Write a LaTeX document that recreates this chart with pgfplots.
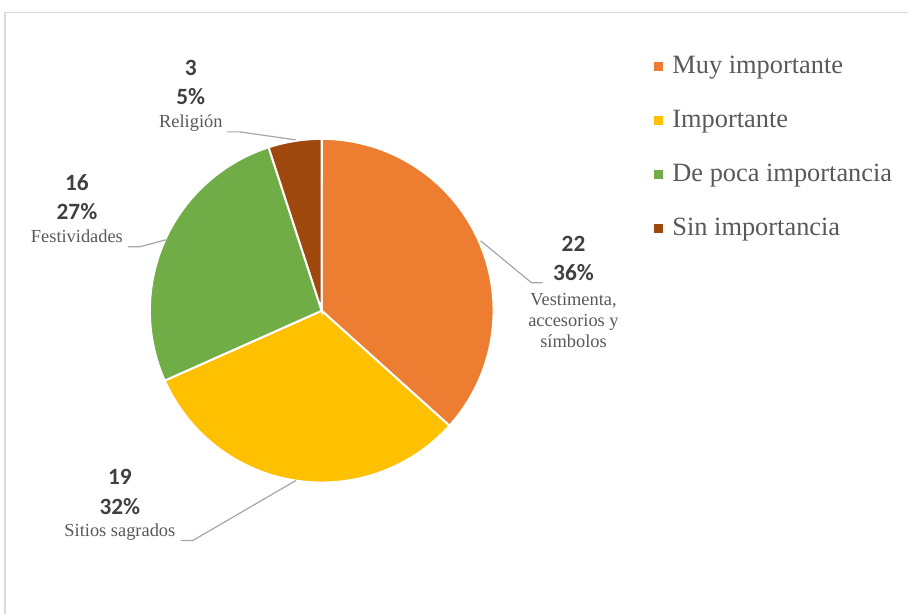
\documentclass[border=0pt]{standalone}
\usepackage{pgfplots}
\usepackage{pgfplotstable}
\pgfplotsset{compat=1.18}
\usepackage{fontspec}
\setmainfont{Liberation Serif}
\newfontfamily\calibri{Carlito}
\definecolor{cOrange}{HTML}{ED7D31}
\definecolor{cYellow}{HTML}{FFC000}
\definecolor{cGreen}{HTML}{70AD47}
\definecolor{cBrown}{HTML}{9E480E}
\definecolor{numtxt}{HTML}{404040}
\definecolor{labtxt}{HTML}{595959}
\definecolor{leader}{HTML}{A6A6A6}
\definecolor{frame}{HTML}{D9D9D9}

\pgfplotstableread{
value pct
22 36
19 32
16 27
3 5
}\piedata

\pgfplotstablegetelem{0}{value}\of\piedata \let\va\pgfplotsretval
\pgfplotstablegetelem{1}{value}\of\piedata \let\vb\pgfplotsretval
\pgfplotstablegetelem{2}{value}\of\piedata \let\vc\pgfplotsretval
\pgfplotstablegetelem{3}{value}\of\piedata \let\vd\pgfplotsretval
\pgfmathsetmacro\tot{\va+\vb+\vc+\vd}
\pgfmathsetmacro\aA{90}
\pgfmathsetmacro\aB{90-360*\va/\tot}
\pgfmathsetmacro\aC{\aB-360*\vb/\tot}
\pgfmathsetmacro\aD{\aC-360*\vc/\tot}
\pgfmathsetmacro\aE{\aD-360*\vd/\tot}

\newcommand\numfont{\calibri\bfseries\fontsize{17.5}{21}\selectfont\color{numtxt}}
\newcommand\labfont{\rmfamily\mdseries\fontsize{13.8}{16.5}\selectfont\color{labtxt}}

\begin{document}
\begin{tikzpicture}
\begin{axis}[
  width=681.75pt, height=461.25pt, scale only axis,
  xmin=0, xmax=909, ymin=0, ymax=615,
  hide axis, clip=false,
  legend cell align=left,
  legend image code/.code={\fill[#1] (0pt,-3.375pt) rectangle (6.75pt,3.375pt);},
  legend style={at={(0.7206,0.9106)}, anchor=north west, draw=none, fill=none,
    inner sep=0pt, outer sep=0pt, row sep=22.5pt, column sep=6.75pt,
    font=\rmfamily\fontsize{19.8}{24}\selectfont\color{labtxt},
    nodes={inner sep=0pt, text height=14pt, text depth=4pt}},
]
\path (axis cs:0,0) rectangle (axis cs:909,615);
% frame
\draw[frame, line width=1.2pt] (axis cs:5,0) -- (axis cs:5,602.5) -- (axis cs:909,602.5);

% pie slices
\addplot[forget plot, fill=cOrange, draw=white, line width=1.5pt, domain=\aB:\aA, samples=90, variable=\t]
  ({322+172*cos(\t)},{304+172*sin(\t)}) -- (axis cs:322,304) -- cycle;
\addplot[forget plot, fill=cYellow, draw=white, line width=1.5pt, domain=\aC:\aB, samples=90, variable=\t]
  ({322+172*cos(\t)},{304+172*sin(\t)}) -- (axis cs:322,304) -- cycle;
\addplot[forget plot, fill=cGreen, draw=white, line width=1.5pt, domain=\aD:\aC, samples=90, variable=\t]
  ({322+172*cos(\t)},{304+172*sin(\t)}) -- (axis cs:322,304) -- cycle;
\addplot[forget plot, fill=cBrown, draw=white, line width=1.5pt, domain=\aE:\aD, samples=30, variable=\t]
  ({322+172*cos(\t)},{304+172*sin(\t)}) -- (axis cs:322,304) -- cycle;

% legend
\addlegendimage{fill=cOrange, draw=none}\addlegendentry{Muy importante}
\addlegendimage{fill=cYellow, draw=none}\addlegendentry{Importante}
\addlegendimage{fill=cGreen, draw=none}\addlegendentry{De poca importancia}
\addlegendimage{fill=cBrown, draw=none}\addlegendentry{Sin importancia}

% leader lines
\draw[leader, line width=0.9pt] (axis cs:543,332) -- (axis cs:532,332) -- (axis cs:481,374);
\draw[leader, line width=0.9pt] (axis cs:181,74) -- (axis cs:193,74) -- (axis cs:296,134);
\draw[leader, line width=0.9pt] (axis cs:128,368) -- (axis cs:140,368) -- (axis cs:166,375);
\draw[leader, line width=0.9pt] (axis cs:227,483) -- (axis cs:240,483) -- (axis cs:296,475);

% data labels
\node[anchor=base, inner sep=0pt] at (axis cs:574,363) {\numfont 22};
\node[anchor=base, inner sep=0pt] at (axis cs:574,334) {\numfont 36\%};
\node[anchor=base, inner sep=0pt] at (axis cs:574,309) {\labfont Vestimenta,};
\node[anchor=base, inner sep=0pt] at (axis cs:574,288.5) {\labfont accesorios y};
\node[anchor=base, inner sep=0pt] at (axis cs:574,267) {\labfont símbolos};

\node[anchor=base, inner sep=0pt] at (axis cs:120,130) {\numfont 19};
\node[anchor=base, inner sep=0pt] at (axis cs:120,100) {\numfont 32\%};
\node[anchor=base, inner sep=0pt] at (axis cs:120,78) {\labfont Sitios sagrados};

\node[anchor=base, inner sep=0pt] at (axis cs:77,424) {\numfont 16};
\node[anchor=base, inner sep=0pt] at (axis cs:77,395) {\numfont 27\%};
\node[anchor=base, inner sep=0pt] at (axis cs:77,372) {\labfont Festividades};

\node[anchor=base, inner sep=0pt] at (axis cs:191,539) {\numfont 3};
\node[anchor=base, inner sep=0pt] at (axis cs:191,510) {\numfont 5\%};
\node[anchor=base, inner sep=0pt] at (axis cs:191,487) {\labfont Religión};
\end{axis}
\end{tikzpicture}
\end{document}
